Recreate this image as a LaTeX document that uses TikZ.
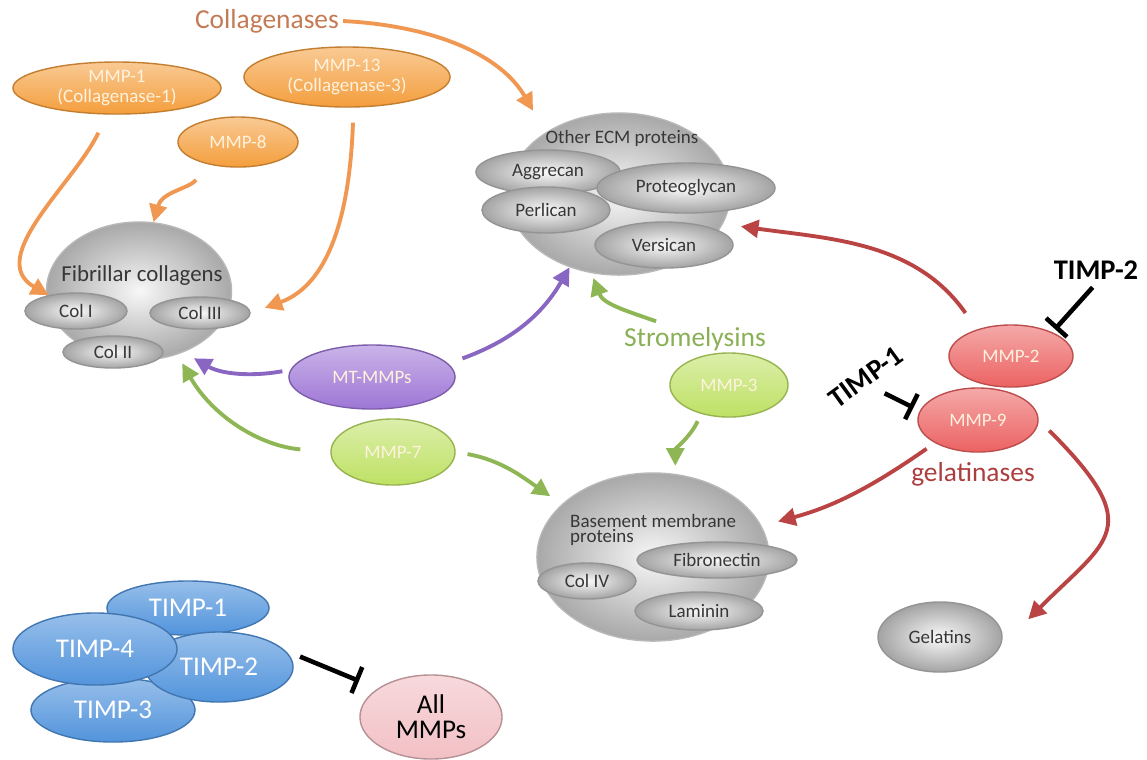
\documentclass[tikz,border=0pt]{standalone}
\usepackage{fontspec}
\setmainfont{Carlito}
\usetikzlibrary{arrows.meta,shapes.geometric}

\definecolor{oracol}{RGB}{244,158,60}
\definecolor{oraline}{RGB}{240,152,82}
\definecolor{oratext}{RGB}{196,122,84}
\definecolor{purcol}{RGB}{158,118,214}
\definecolor{purline}{RGB}{136,102,194}
\definecolor{limecol}{RGB}{190,225,100}
\definecolor{greenline}{RGB}{142,182,84}
\definecolor{greentext}{RGB}{138,176,86}
\definecolor{redcol}{RGB}{236,98,98}
\definecolor{redline}{RGB}{186,68,68}
\definecolor{redtext}{RGB}{172,62,62}
\definecolor{bluecol}{RGB}{82,148,220}
\definecolor{pinkcol}{RGB}{242,192,197}
\definecolor{darktext}{RGB}{55,55,55}
\definecolor{paletext}{RGB}{255,242,222}

\tikzset{
  blob/.style={ellipse, inner sep=0pt, align=center, line width=0.4pt},
  bigblob/.style={blob, inner color=black!3, outer color=black!34, draw=black!28},
  protblob/.style={blob, inner color=black!2, outer color=black!36, draw=black!42, text=darktext, font=\fontsize{5.4}{6}\selectfont},
  blobtitle/.style={text=darktext, font=\fontsize{5.4}{6}\selectfont, inner sep=1pt},
  mmpblob/.style={blob, top color=#1!55!white, bottom color=#1, draw=#1!80!black, text=paletext, font=\fontsize{5.4}{5.9}\selectfont},
  timpblob/.style={blob, top color=bluecol!60!white, bottom color=bluecol, draw=bluecol!80!black, text=white, font=\fontsize{7.7}{8}\selectfont},
  familylab/.style={font=\fontsize{7.8}{8}\selectfont, inner sep=1pt, text=#1},
  timplab/.style={font={\fontsize{8.1}{9}\selectfont\bfseries}, inner sep=1pt},
  arr/.style={line width=1.1pt, -{Triangle[length=5pt,width=5pt]}},
  inhib/.style={line width=1.3pt, -{Bar[width=8pt]}}
}

\begin{document}
\begin{tikzpicture}[x=0.01cm, y=0.01cm]
\useasboundingbox (0,0) rectangle (1147,-759);

\node[familylab=oratext] (collab) at (267,-21) {Collagenases};
\node[mmpblob=oracol, minimum width=2.08cm, minimum height=0.52cm] (mmpone) at (117,-88) {MMP-1\\(Collagenase-1)};
\node[mmpblob=oracol, minimum width=2.06cm, minimum height=0.60cm] (mmpthirteen) at (347,-77) {MMP-13\\(Collagenase-3)};
\node[mmpblob=oracol, minimum width=1.20cm, minimum height=0.50cm] (mmpeight) at (238,-142) {MMP-8};

\node[bigblob, minimum width=1.85cm, minimum height=1.38cm] (fibril) at (139,-291) {};
\node[blobtitle, font=\fontsize{6.5}{7}\selectfont] (fibriltitle) at (142,-276) {Fibrillar collagens};
\node[protblob, minimum width=1.02cm, minimum height=0.36cm] (coli) at (76,-311) {Col I};
\node[protblob, minimum width=1.00cm, minimum height=0.32cm] (coliii) at (200,-313) {Col III};
\node[protblob, minimum width=1.00cm, minimum height=0.32cm] (colii) at (113,-352) {Col II};

\node[bigblob, minimum width=2.22cm, minimum height=1.62cm] (ecm) at (619,-194) {};
\node[blobtitle] (ecmtitle) at (622,-138) {Other ECM proteins};
\node[protblob, minimum width=1.44cm, minimum height=0.44cm] (aggrecan) at (548,-172) {Aggrecan};
\node[protblob, minimum width=1.78cm, minimum height=0.50cm] (proteo) at (686,-188) {Proteoglycan};
\node[protblob, minimum width=1.28cm, minimum height=0.46cm] (perlican) at (546,-210) {Perlican};
\node[protblob, minimum width=1.38cm, minimum height=0.46cm] (versican) at (664,-245) {Versican};

\node[mmpblob=purcol, minimum width=1.66cm, minimum height=0.64cm] (mtmmp) at (372,-377) {MT-MMPs};
\node[mmpblob=limecol, minimum width=1.24cm, minimum height=0.66cm] (mmpseven) at (393,-452) {MMP-7};
\node[familylab=greentext] (stromlab) at (695,-339) {Stromelysins};
\node[mmpblob=limecol, minimum width=1.18cm, minimum height=0.64cm] (mmpthree) at (729,-385) {MMP-3};

\node[bigblob, minimum width=2.32cm, minimum height=1.68cm] (basement) at (653,-557) {};
\node[blobtitle, anchor=west, align=left, font=\fontsize{5.4}{4.3}\selectfont] (bmtitle) at (566,-530) {Basement membrane\\proteins};
\node[protblob, minimum width=1.60cm, minimum height=0.36cm] (fibro) at (717,-560) {Fibronectin};
\node[protblob, minimum width=0.98cm, minimum height=0.36cm] (coliv) at (587,-581) {Col IV};
\node[protblob, minimum width=1.28cm, minimum height=0.38cm] (laminin) at (699,-611) {Laminin};

\node[mmpblob=redcol, minimum width=1.24cm, minimum height=0.62cm] (mmptwo) at (1011,-356) {MMP-2};
\node[mmpblob=redcol, minimum width=1.20cm, minimum height=0.64cm] (mmpnine) at (978,-420) {MMP-9};
\node[familylab=redtext] (gelalab) at (973,-474) {gelatinases};
\node[protblob, minimum width=1.24cm, minimum height=0.70cm] (gelatins) at (940,-637) {Gelatins};
\node[timplab] (timptwolab) at (1096,-270) {TIMP-2};
\node[timplab, rotate=36] (timponelab) at (866,-377) {TIMP-1};

\node[timpblob, minimum width=1.62cm, minimum height=0.54cm] (timpone) at (188,-608) {TIMP-1};
\node[timpblob, minimum width=1.64cm, minimum height=0.64cm] (timpthree) at (113,-710) {TIMP-3};
\node[timpblob, minimum width=1.48cm, minimum height=0.70cm] (timptwo) at (219,-667) {TIMP-2};
\node[timpblob, minimum width=1.64cm, minimum height=0.72cm] (timpfour) at (95,-649) {TIMP-4};
\node[blob, top color=pinkcol!60!white, bottom color=pinkcol, draw=pinkcol!75!black, font=\fontsize{7.7}{7.2}\selectfont, minimum width=1.42cm, minimum height=0.84cm] (allmmp) at (431,-717) {All\\MMPs};

\draw[arr, oraline, shorten <=2mm] (mmpone.-111) to[out=-115, in=150] (coli.150);
\draw[arr, oraline, shorten <=2mm] (mmpeight.-142) to[out=-130, in=75] (fibril.78);
\draw[arr, oraline, shorten <=1.5mm, shorten >=1.5mm] (mmpthirteen.-78) to[out=-92, in=20] (coliii.east);
\draw[arr, oraline, shorten >=2.5mm] (collab.east) to[out=-3, in=120] (ecm.140);

\draw[arr, redline, shorten <=2mm, shorten >=1.8mm] (mmptwo.142) to[out=125, in=-8] (ecm.-16);
\draw[arr, redline, shorten <=1mm, shorten >=1.7mm] (mmpnine.-152) to[out=-145, in=15] (basement.16);
\draw[arr, redline, shorten <=1.5mm, shorten >=4mm] (mmpnine.east) to[out=-45, in=45, looseness=1.7] (gelatins.-10);

\draw[arr, purline, shorten <=0.8mm, shorten >=1.2mm] (mtmmp.175) to[out=190, in=-30] (fibril.-54);
\draw[arr, purline, shorten <=1.5mm] (mtmmp.10) to[out=20, in=-120] (ecm.-124);

\draw[arr, greenline, shorten <=3mm, shorten >=1mm] (mmpseven.west) to[out=175, in=-60] (fibril.-59);
\draw[arr, greenline, shorten <=1.2mm, shorten >=1.4mm] (mmpseven.east) to[out=-10, in=145] (basement.150);
\draw[arr, greenline, shorten <=0.5mm, shorten >=0.5mm] (stromlab.155) to[out=160, in=-70] (ecm.-109);
\draw[arr, greenline, shorten <=0.8mm, shorten >=0.8mm] (mmpthree.-134) to[out=-115, in=90] (basement.75);

\draw[inhib, shorten <=0.5mm, shorten >=0.4mm] (timptwolab.south) -- (mmptwo.30);
\draw[inhib, shorten <=1.2mm, shorten >=0.7mm] (timponelab.south) -- (mmpnine.171);
\draw[inhib, shorten <=1.6mm, shorten >=2mm] (timptwo.14) -- (allmmp.152);

\end{tikzpicture}
\end{document}
